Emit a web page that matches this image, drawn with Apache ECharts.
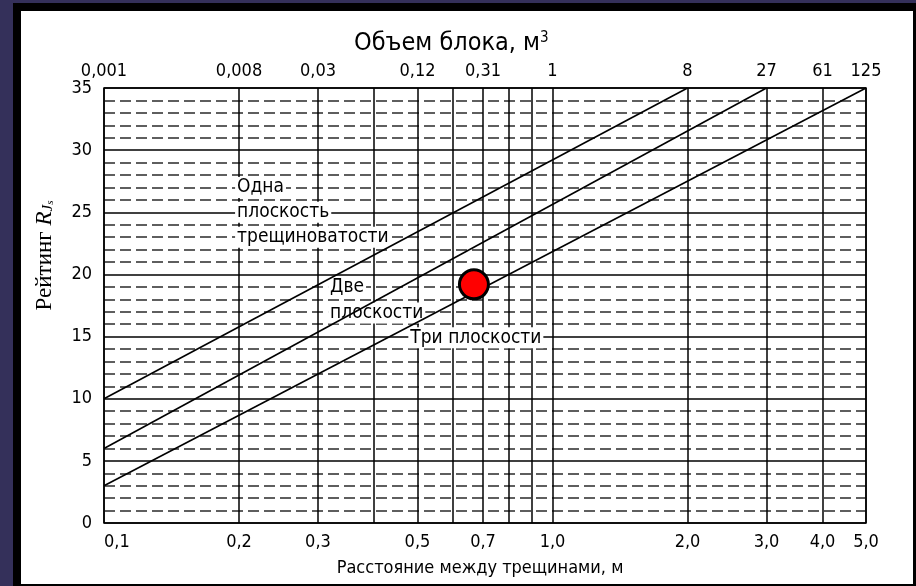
<!DOCTYPE html>
<html><head><meta charset="utf-8">
<script src="https://cdn.jsdelivr.net/npm/echarts@6/dist/echarts.min.js"></script>
<style>
html,body{margin:0;padding:0;width:916px;height:586px;overflow:hidden;background:#34305a;}
#frame{position:absolute;left:13px;top:3px;width:903px;height:583px;background:#000;}
#paper{position:absolute;left:21px;top:11px;width:892px;height:573px;background:#fff;}
#chart{position:absolute;left:0;top:0;width:916px;height:586px;}
</style></head><body>
<div id="frame"></div><div id="paper"></div><div id="chart"></div>
<script>
// ---- data ----
const xMin = 0.1, xMax = 5.0;
const yMin = 0, yMax = 35, yStep = 5;
const gridLineSpacings = [0.1, 0.2, 0.3, 0.4, 0.5, 0.6, 0.7, 0.8, 0.9, 1, 2, 3, 4, 5];
const bottomTickValues = [0.1, 0.2, 0.3, 0.5, 0.7, 1, 2, 3, 4, 5];
const bottomTickLabels = ['0,1', '0,2', '0,3', '0,5', '0,7', '1,0', '2,0', '3,0', '4,0', '5,0'];
const topTickValues = [0.1, 0.2, 0.3, 0.5, 0.7, 1, 2, 3, 4, 5];
const topTickLabels = ['0,001', '0,008', '0,03', '0,12', '0,31', '1', '8', '27', '61', '125'];
const oneSetLine = [[0.1, 10], [2.0, 35]];
const twoSetsLine = [[0.1, 6], [3.0, 35]];
const threeSetsLine = [[0.1, 3], [5.0, 35]];
const markedPoint = [[0.668, 19.2]];
const annotationTexts = ['Одна', 'плоскость', 'трещиноватости', 'Две', 'плоскости', 'Три плоскости'];
const annotationAnchors = [[0.196, 27], [0.196, 25], [0.196, 23], [0.316, 19], [0.316, 16.9], [0.477, 14.9]];

// ---- chart ----
const FONT = '"DejaVu Sans Condensed", "DejaVu Sans", sans-serif';
const SERIF = '"Liberation Serif", "DejaVu Serif", serif';
function nearestLabel(values, labels, v) {
  let bi = 0, bd = Infinity;
  values.forEach((t, i) => { const d = Math.abs(Math.log(t) - Math.log(v)); if (d < bd) { bd = d; bi = i; } });
  return labels[bi];
}
const chart = echarts.init(document.getElementById('chart'), null, { renderer: 'canvas' });
const option = {
  backgroundColor: 'transparent',
  animation: false,
  title: {
    text: '{a|Объем блока, м}{s|3}',
    left: 349, top: 26,
    textStyle: {
      rich: {
        a: { fontFamily: FONT, fontSize: 25, fontWeight: 'normal', color: '#000' },
        s: { fontFamily: FONT, fontSize: 15, fontWeight: 'normal', color: '#000', verticalAlign: 'top' }
      }
    }
  },
  grid: { left: 104, right: 50, top: 88, bottom: 63, show: true, borderColor: '#000', borderWidth: 1.5,
          backgroundColor: 'transparent', containLabel: false, outerBoundsMode: 'none' },
  xAxis: [
    {
      type: 'log', logBase: 10, min: xMin, max: xMax, position: 'bottom',
      name: 'Расстояние между трещинами, м', nameLocation: 'middle', nameGap: 36,
      nameTextStyle: { fontFamily: FONT, fontSize: 18, color: '#000', padding: [0, 10, 0, 0] },
      axisLine: { show: false },
      axisTick: { show: false, customValues: gridLineSpacings },
      axisLabel: { customValues: bottomTickValues, formatter: v => nearestLabel(bottomTickValues, bottomTickLabels, v),
                   fontFamily: FONT, fontSize: 18, color: '#000', margin: 10, alignMinLabel: 'left' },
      splitLine: { show: true, lineStyle: { color: '#000', width: 1.5 } },
      minorSplitLine: { show: false }
    },
    {
      type: 'log', logBase: 10, min: xMin, max: xMax, position: 'top',
      axisLine: { show: false },
      axisTick: { show: false, customValues: topTickValues },
      axisLabel: { customValues: topTickValues, formatter: v => nearestLabel(topTickValues, topTickLabels, v),
                   fontFamily: FONT, fontSize: 18, color: '#000', margin: 8 },
      splitLine: { show: false }
    }
  ],
  yAxis: {
    type: 'value', min: yMin, max: yMax, interval: yStep,
    axisLine: { show: false }, axisTick: { show: false },
    axisLabel: { fontFamily: FONT, fontSize: 18, color: '#000', margin: 12 },
    splitLine: { show: true, lineStyle: { color: '#000', width: 1.5 } },
    minorTick: { show: false, splitNumber: 5 },
    minorSplitLine: { show: true, lineStyle: { color: '#2a2a2a', width: 1.7, type: [11, 5] } },
    name: '{a|Рейтинг }{r|R}{j|J}{s|s}', nameLocation: 'middle', nameGap: 48, nameRotate: 90,
    nameTextStyle: {
      padding: [0, 0, 0, 100],
      rich: {
        a: { fontFamily: SERIF, fontSize: 23, color: '#000' },
        r: { fontFamily: SERIF, fontSize: 23, fontStyle: 'italic', color: '#000' },
        j: { fontFamily: SERIF, fontSize: 15, fontStyle: 'italic', color: '#000', verticalAlign: 'bottom' },
        s: { fontFamily: SERIF, fontSize: 11, fontStyle: 'italic', color: '#000', verticalAlign: 'bottom' }
      }
    }
  },
  series: [
    { type: 'line', xAxisIndex: 0, data: oneSetLine, symbol: 'none', silent: true, z: 3, lineStyle: { color: '#000', width: 1.6 } },
    { type: 'line', xAxisIndex: 0, data: twoSetsLine, symbol: 'none', silent: true, z: 3, lineStyle: { color: '#000', width: 1.6 } },
    { type: 'line', xAxisIndex: 0, data: threeSetsLine, symbol: 'none', silent: true, z: 3, lineStyle: { color: '#000', width: 1.6 } },
    {
      type: 'scatter', xAxisIndex: 0, z: 2, silent: true, symbolSize: 0,
      itemStyle: { color: 'rgba(0,0,0,0)' },
      data: annotationAnchors.map((p, i) => ({ value: p, label: { formatter: annotationTexts[i] } })),
      label: { show: true, position: 'right', distance: 0, fontFamily: FONT, fontSize: 19, color: '#000',
               opacity: 1, backgroundColor: '#fff', padding: [1, 2] }
    },
    {
      type: 'scatter', xAxisIndex: 0, z: 5, silent: true, data: markedPoint, symbolSize: 29,
      itemStyle: { color: '#ff0000', borderColor: '#000', borderWidth: 3, opacity: 1 }
    }
  ]
};
chart.setOption(option);
</script>
</body></html>
